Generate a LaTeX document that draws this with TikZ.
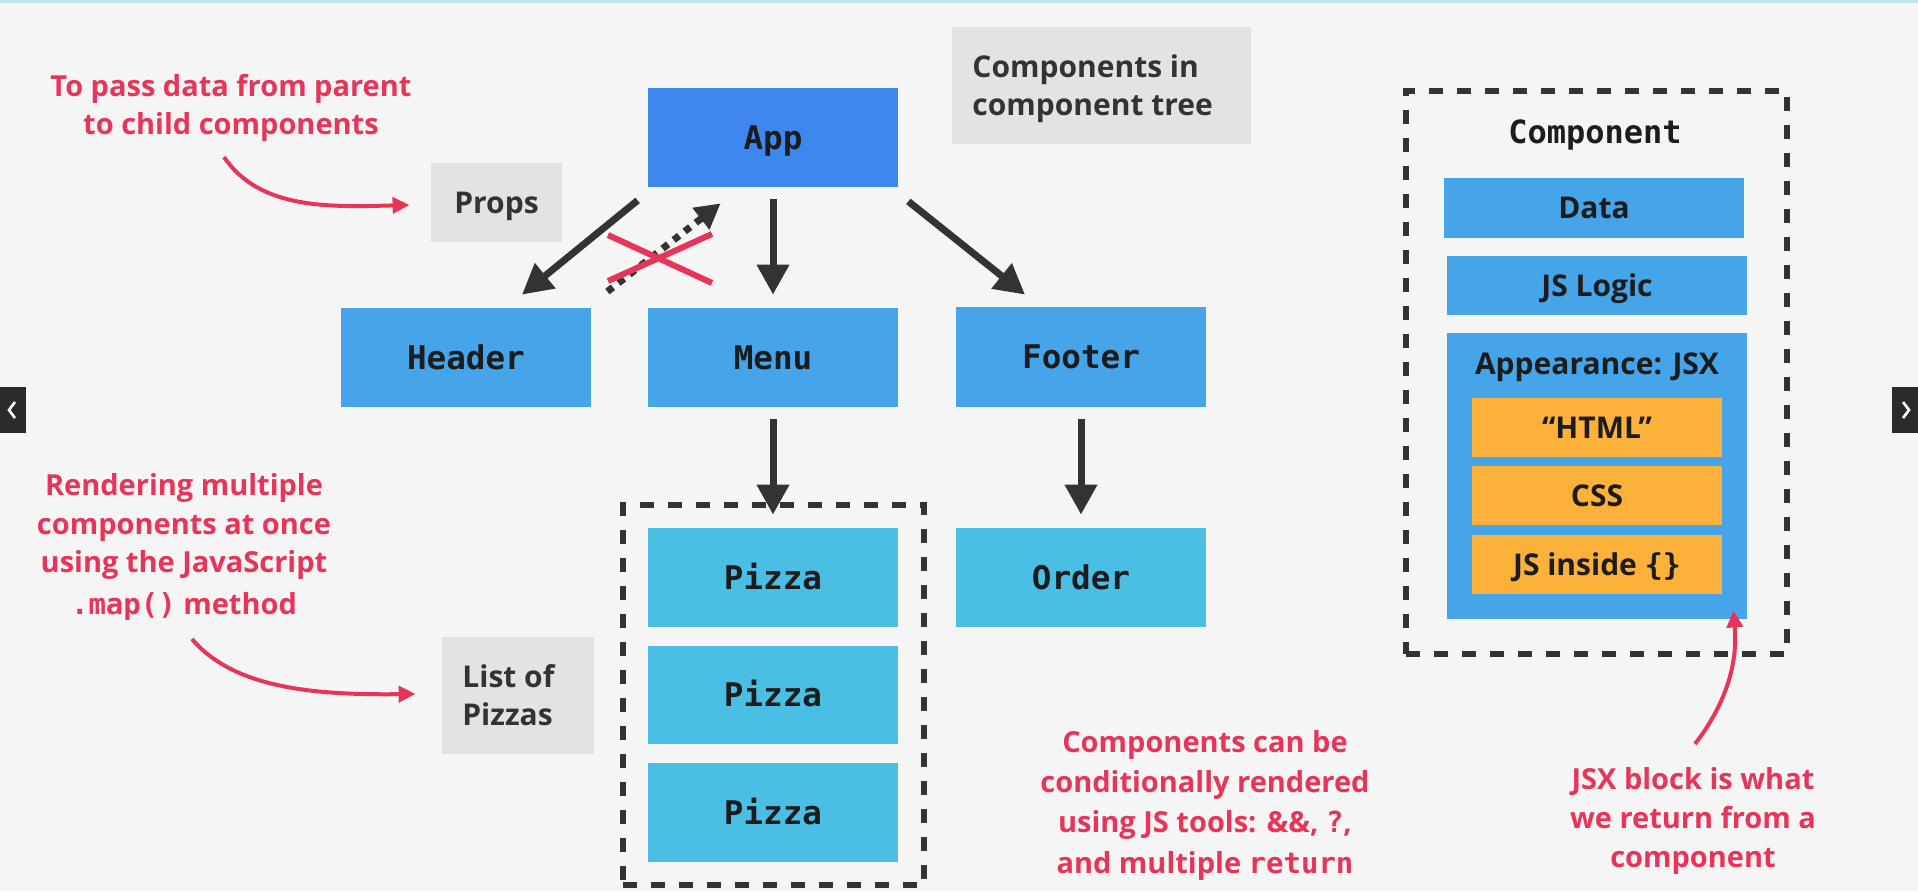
\documentclass[tikz,border=0pt]{standalone}
\usepackage{fontspec}
\setmainfont{Open Sans}
\newfontfamily\cmono{DejaVu Sans Mono}
\usetikzlibrary{arrows.meta,calc}
\definecolor{bgc}{HTML}{F5F5F5}
\definecolor{appblue}{HTML}{3E87EF}
\definecolor{compblue}{HTML}{46A4E9}
\definecolor{cyanblue}{HTML}{4BBEE4}
\definecolor{orangec}{HTML}{FCB13B}
\definecolor{grayboxc}{HTML}{E3E3E3}
\definecolor{redc}{HTML}{E7355A}
\definecolor{darkc}{HTML}{333333}
\definecolor{txtdark}{HTML}{1C1C1C}
\definecolor{navc}{HTML}{2B2B2B}
\definecolor{topc}{HTML}{BFE4EC}
\tikzset{
  monobox/.style={rectangle, inner sep=0pt, minimum width=125pt, minimum height=49.5pt,
    font=\cmono\bfseries\fontsize{16.3pt}{19pt}\selectfont, text=txtdark,
    text height=11.9pt, text depth=0pt},
  sansbox/.style={rectangle, inner sep=0pt, fill=compblue,
    font=\bfseries\fontsize{15pt}{18pt}\selectfont, text=txtdark,
    text height=10.7pt, text depth=0pt},
  labelbox/.style={rectangle, inner sep=0pt, fill=grayboxc,
    font=\bfseries\fontsize{15pt}{18pt}\selectfont, text=darkc,
    text height=10.7pt, text depth=0pt},
  labelline/.style={inner sep=0pt, anchor=base west, text=darkc,
    font=\bfseries\fontsize{15pt}{18pt}\selectfont},
  redline/.style={inner sep=0pt, anchor=base, text=redc,
    font=\bfseries\fontsize{14.5pt}{18pt}\selectfont},
  dashframe/.style={rectangle, inner sep=0pt, draw=darkc, line width=3pt,
    dash pattern=on 7pt off 7pt},
  darrow/.style={draw=darkc, line width=3.5pt, -{Triangle[length=15pt,width=15.5pt]}},
  dotarrow/.style={draw=darkc, line width=3.5pt, dash pattern=on 3.5pt off 3.5pt,
    -{Triangle[length=12.5pt,width=13pt]}},
  rarrow/.style={draw=redc, line width=2pt, -{Triangle[length=8.5pt,width=8pt]}},
  crossline/.style={draw=redc, line width=3pt},
}
\begin{document}
\begin{tikzpicture}[x=0.5pt,y=-0.5pt]
\useasboundingbox (0,0) rectangle (1918,891);
\fill[bgc] (0,0) rectangle (1918,891);
\draw[topc, line width=1.5pt] (0,1) -- (1918,1);

% navigation tabs
\fill[navc] (0,387) rectangle (26,433);
\draw[white, line width=1.3pt] (15,402) -- (9,410) -- (15,418);
\fill[navc] (1892,387) rectangle (1918,433);
\draw[white, line width=1.3pt] (1903,402) -- (1909,410) -- (1903,418);

% tree
\node[monobox, fill=appblue] (app) at (773,137.5) {App};
\node[monobox, fill=compblue] (header) at (466,357.5) {Header};
\node[monobox, fill=compblue] (menu) at (773,357.5) {Menu};
\node[monobox, fill=compblue, minimum height=50pt] (footer) at (1081,357) {Footer};
\node[dashframe, minimum width=150.75pt, minimum height=190pt] (pizzaframe) at (773.25,695) {};
\node[monobox, fill=cyanblue] (pizza1) at (773,577.5) {Pizza};
\node[monobox, fill=cyanblue, minimum height=49pt] (pizza2) at (773,695) {Pizza};
\node[monobox, fill=cyanblue] (pizza3) at (773,812.5) {Pizza};
\node[monobox, fill=cyanblue] (order) at (1081,577.5) {Order};

% connectors
\draw[darrow] ($(app.south west)+(-10,13)$) -- ($(header.north)+(56,-13)$);
\draw[darrow] ($(app.south)+(0,12)$) -- ($(menu.north)+(0,-13)$);
\draw[darrow] ($(app.south east)+(10,14)$) -- ($(footer.north)+(-56,-12)$);
\draw[dotarrow] ($(header.north east)+(16,-16)$) -- ($(app.south west)+(73,16)$);
\draw[darrow] ($(menu.south)+(0,12)$) -- ($(pizza1.north)+(0,-13)$);
\draw[darrow] ($(footer.south)+(0,12)$) -- ($(order.north)+(0,-13)$);
\draw[crossline] (608,235) -- (712,283);
\draw[crossline] (608,281) -- (712,234);

% grey labels
\node[labelbox, minimum width=65.5pt, minimum height=39.5pt] (props) at (496.5,202.5) {Props};
\node[labelbox, minimum width=149.5pt, minimum height=58.5pt] (treebox) at (1101.5,85.5) {};
\node[labelline] (tree1) at (972,77) {Components in};
\node[labelline] (tree2) at (972,115) {component tree};
\node[labelbox, minimum width=76pt, minimum height=58.5pt] (listbox) at (518,695.5) {};
\node[labelline] (list1) at (462,687) {List of};
\node[labelline] (list2) at (462,725) {Pizzas};

% red notes
\node[redline] (ra) at (231,96) {To pass data from parent};
\node[redline] (rb) at (231,134) {to child components};
\node[redline] (rc) at (184,495) {Rendering multiple};
\node[redline] (rd) at (184,534) {components at once};
\node[redline] (re) at (184,572) {using the JavaScript};
\node[redline] (rf) at (184,614) {{\cmono .map()} method};
\node[redline] (rg) at (1205,752) {Components can be};
\node[redline] (rh) at (1205,792) {conditionally rendered};
\node[redline] (ri) at (1205,832) {using JS tools: \&\&, {\cmono ?},};
\node[redline] (rj) at (1205,873) {and multiple {\cmono return}};
\node[redline] (rk) at (1693,789) {JSX block is what};
\node[redline] (rl) at (1693,828) {we return from a};
\node[redline] (rm) at (1693,867) {component};

% component panel
\node[dashframe, minimum width=190.5pt, minimum height=281.5pt] (frame) at (1596.5,372.5) {};
\node[inner sep=0pt, anchor=base, text=txtdark, font=\cmono\bfseries\fontsize{16pt}{19pt}\selectfont] (comptitle) at (1595,143) {Component};
\node[sansbox, minimum width=150pt, minimum height=30pt] (data) at (1594,208) {Data};
\node[sansbox, minimum width=150pt, minimum height=29.5pt] (logic) at (1597,285.5) {JS Logic};
\node[sansbox, minimum width=150pt, minimum height=143pt] (appear) at (1597,476) {};
\node[inner sep=0pt, anchor=base, text=txtdark, font=\bfseries\fontsize{15pt}{18pt}\selectfont] (appeartitle) at (1597,374) {Appearance: JSX};
\node[sansbox, fill=orangec, minimum width=125pt, minimum height=29.5pt] (html) at (1597,427.5) {“HTML”};
\node[sansbox, fill=orangec, minimum width=125pt, minimum height=29.5pt] (css) at (1597,495.5) {CSS};
\node[sansbox, fill=orangec, minimum width=125pt, minimum height=29.5pt] (jsin) at (1597,564.5) {JS inside {\cmono\{\}}};

% red curved arrows
\draw[rarrow] ($(rb.base)+(-7,23)$) .. controls (260,210) and (330,207) .. ($(props.west)+(-21,2.5)$);
\draw[rarrow] ($(rf.base)+(8,25)$) .. controls (235,690) and (320,695) .. ($(listbox.west)+(-26,-1.5)$);
\draw[rarrow] ($(rk.base)+(2,-45)$) .. controls (1725,705) and (1738,665) .. ($(appear.south east)+(-14,-9)$);
\end{tikzpicture}
\end{document}
